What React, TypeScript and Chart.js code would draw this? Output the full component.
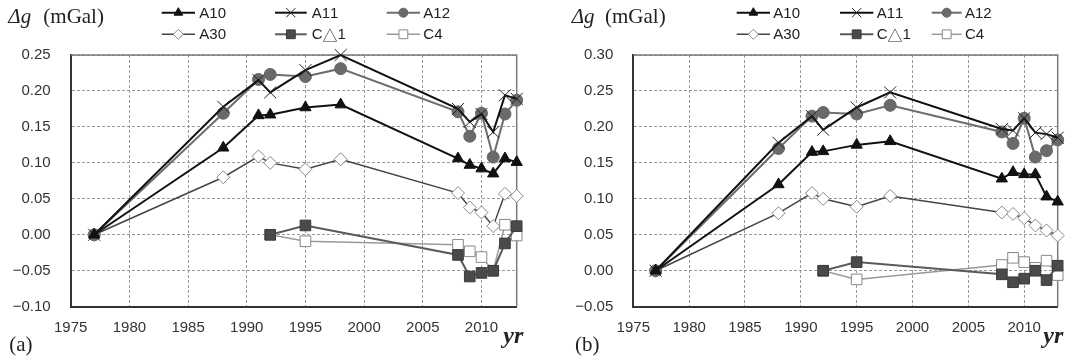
import React, { useEffect, useRef } from 'react';
import { Chart, registerables } from 'chart.js';

Chart.register(...registerables);

// ---- data ----
const yearsA = [1977, 1988, 1991, 1992, 1995, 1998, 2008, 2009, 2010, 2011, 2012, 2013];
const yearsC = [1992, 1995, 2008, 2009, 2010, 2011, 2012, 2013];
const seriesNames = ['A10', 'A11', 'A12', 'A30', 'C△1', 'C4'];
const xTickYears = [1975, 1980, 1985, 1990, 1995, 2000, 2005, 2010];

// panel (a)
const aA10 = [0, 0.121, 0.166, 0.167, 0.177, 0.181, 0.106, 0.097, 0.092, 0.085, 0.106, 0.101];
const aA11 = [0, 0.178, 0.215, 0.198, 0.229, 0.250, 0.175, 0.157, 0.168, 0.143, 0.194, 0.189];
const aA12 = [0, 0.169, 0.216, 0.223, 0.220, 0.231, 0.171, 0.137, 0.169, 0.108, 0.168, 0.187];
const aA30 = [0, 0.080, 0.109, 0.100, 0.091, 0.105, 0.058, 0.038, 0.031, 0.012, 0.057, 0.054];
const aC1 = [0, 0.013, -0.028, -0.058, -0.053, -0.050, -0.012, 0.012];
const aC4 = [0, -0.009, -0.014, -0.023, -0.031, -0.050, 0.014, -0.001];

// panel (b)
const bA10 = [0, 0.120, 0.165, 0.166, 0.175, 0.180, 0.128, 0.137, 0.134, 0.134, 0.103, 0.096];
const bA11 = [0, 0.178, 0.215, 0.196, 0.227, 0.248, 0.197, 0.195, 0.212, 0.192, 0.190, 0.185];
const bA12 = [0, 0.170, 0.215, 0.220, 0.218, 0.230, 0.193, 0.177, 0.212, 0.158, 0.167, 0.182];
const bA30 = [0, 0.080, 0.108, 0.100, 0.089, 0.104, 0.081, 0.079, 0.073, 0.063, 0.056, 0.049];
const bC1 = [0, 0.012, -0.005, -0.016, -0.011, 0.000, -0.013, 0.007];
const bC4 = [0, -0.012, 0.008, 0.018, 0.012, 0.004, 0.014, -0.006];

// ---- styles ----
const STYLES = [
  { line: '#111', lw: 2, marker: 'triangle', r: 6.5, fill: '#111', stroke: '#111', pbw: 1, lr: 5 },
  { line: '#111', lw: 2, marker: 'crossRot', r: 8.5, fill: '#111', stroke: '#222', pbw: 1, lr: 6.5 },
  { line: '#6e6e6e', lw: 2, marker: 'circle', r: 6, fill: '#6a6a6a', stroke: '#666', pbw: 1, lr: 4.5 },
  { line: '#444', lw: 1.5, marker: 'rectRot', r: 6.5, fill: '#fff', stroke: '#888', pbw: 1, lr: 5 },
  { line: '#5a5a5a', lw: 2, marker: 'rect', r: 7.5, fill: '#4a4a4a', stroke: '#3a3a3a', pbw: 1, lr: 5.5 },
  { line: '#9a9a9a', lw: 1.5, marker: 'rect', r: 7.5, fill: '#fff', stroke: '#888', pbw: 1, lr: 5.5 },
];

const W_H = 358;

type Panel = {
  values: number[][];
  yMin: number;
  yMax: number;
  width: number;
  left: number;
  right: number;
  legendCols: number[][];
  titleX: number[];
  tag: string;
  tagX: number;
  yrX: number;
};

const panelA: Panel = {
  values: [aA10, aA11, aA12, aA30, aC1, aC4],
  yMin: -0.1,
  yMax: 0.25,
  width: 540,
  left: 70.7,
  right: 516.7,
  legendCols: [[161.7, 195, 199.3], [275, 306.7, 311.7], [386.7, 420, 423.3]],
  titleX: [8.3, 43.3],
  tag: '(a)',
  tagX: 9.3,
  yrX: 503.3,
};

const panelB: Panel = {
  values: [bA10, bA11, bA12, bA30, bC1, bC4],
  yMin: -0.05,
  yMax: 0.3,
  width: 533,
  left: 93.3,
  right: 517.7,
  legendCols: [[196.7, 230, 233.3], [300, 333.3, 336.7], [391.7, 421.7, 425]],
  titleX: [31.7, 65],
  tag: '(b)',
  tagX: 35,
  yrX: 503.3,
};

function drawMarker(ctx: CanvasRenderingContext2D, s: any, x: number, y: number) {
  const r = s.lr;
  ctx.save();
  ctx.fillStyle = s.fill;
  ctx.strokeStyle = s.stroke;
  ctx.lineWidth = s.pbw;
  ctx.beginPath();
  if (s.marker === 'triangle') {
    ctx.moveTo(x, y - r);
    ctx.lineTo(x + r * 0.866, y + r * 0.5);
    ctx.lineTo(x - r * 0.866, y + r * 0.5);
    ctx.closePath();
    ctx.fill();
    ctx.stroke();
  } else if (s.marker === 'crossRot') {
    const d = r * 0.707;
    ctx.moveTo(x - d, y - d);
    ctx.lineTo(x + d, y + d);
    ctx.moveTo(x + d, y - d);
    ctx.lineTo(x - d, y + d);
    ctx.stroke();
  } else if (s.marker === 'circle') {
    ctx.arc(x, y, r, 0, Math.PI * 2);
    ctx.fill();
    ctx.stroke();
  } else if (s.marker === 'rectRot') {
    ctx.moveTo(x, y - r);
    ctx.lineTo(x + r, y);
    ctx.lineTo(x, y + r);
    ctx.lineTo(x - r, y);
    ctx.closePath();
    ctx.fill();
    ctx.stroke();
  } else {
    const h = r * 0.8;
    ctx.rect(x - h, y - h, 2 * h, 2 * h);
    ctx.fill();
    ctx.stroke();
  }
  ctx.restore();
}

const LATIN = '15px "Liberation Sans", sans-serif';
const CJK = '15px "Noto Sans CJK JP", sans-serif';

function drawLegendLabel(ctx: CanvasRenderingContext2D, name: string, x: number, y: number) {
  let cx = x;
  for (const ch of name) {
    ctx.font = ch === '△' ? CJK : LATIN;
    ctx.fillText(ch, cx, y);
    cx += ctx.measureText(ch).width;
  }
}

function makeDecor(p: Panel) {
  return {
    id: 'decor',
    beforeDatasetsDraw(chart: any) {
      const { ctx, chartArea: a } = chart;
      ctx.save();
      ctx.strokeStyle = '#7a7a7a';
      ctx.lineWidth = 1.5;
      ctx.beginPath();
      ctx.moveTo(a.left, a.top);
      ctx.lineTo(a.right, a.top);
      ctx.lineTo(a.right, a.bottom);
      ctx.stroke();
      ctx.restore();
    },
    afterDraw(chart: any) {
      const ctx: CanvasRenderingContext2D = chart.ctx;
      ctx.save();
      // legend
      const rows = [12.7, 34.3];
      seriesNames.forEach((name, i) => {
        const s = STYLES[i];
        const col = p.legendCols[i % 3];
        const y = rows[Math.floor(i / 3)];
        ctx.strokeStyle = s.line;
        ctx.lineWidth = s.lw;
        ctx.beginPath();
        ctx.moveTo(col[0], y);
        ctx.lineTo(col[1], y);
        ctx.stroke();
        drawMarker(ctx, s, (col[0] + col[1]) / 2, y);
        ctx.fillStyle = '#222';
        ctx.textBaseline = 'middle';
        ctx.textAlign = 'left';
        drawLegendLabel(ctx, name, col[2], y + 1);
      });
      // y title
      ctx.fillStyle = '#222';
      ctx.textBaseline = 'middle';
      ctx.font = 'italic 21px "Liberation Serif", serif';
      ctx.fillText('Δg', p.titleX[0], 17);
      ctx.font = '21px "Liberation Serif", serif';
      ctx.fillText('(mGal)', p.titleX[1], 17);
      // x title
      ctx.font = 'italic bold 24px "Liberation Serif", serif';
      ctx.fillText('yr', p.yrX, 337);
      // panel tag
      ctx.font = '21px "Liberation Serif", serif';
      ctx.fillText(p.tag, p.tagX, 345);
      ctx.restore();
    },
  };
}

function fmtY(v: number) {
  if (Math.abs(v) < 1e-9) return '0.00';
  return v < 0 ? '\u2212' + Math.abs(v).toFixed(2) : v.toFixed(2);
}

function PanelChart({ p, offsetX }: { p: Panel; offsetX: number }) {
  const ref = useRef<HTMLCanvasElement | null>(null);
  useEffect(() => {
    if (!ref.current) return;
    const datasets = p.values.map((vals, i) => {
      const s = STYLES[i];
      const xs = i < 4 ? yearsA : yearsC;
      return {
        label: seriesNames[i],
        data: vals.map((v, k) => ({ x: xs[k], y: v })),
        borderColor: s.line,
        borderWidth: s.lw,
        pointStyle: s.marker,
        pointRadius: s.r,
        pointBackgroundColor: s.fill,
        pointBorderColor: s.stroke,
        pointBorderWidth: s.pbw,
        tension: 0,
        fill: false,
        clip: false,
      };
    });
    const gridCommon = { color: '#9a9a9a', lineWidth: 1, drawTicks: false };
    const chart = new Chart(ref.current, {
      type: 'line',
      data: { datasets } as any,
      options: {
        animation: false,
        responsive: false,
        devicePixelRatio: 1,
        layout: { padding: { left: 0, right: p.width - p.right, top: 55, bottom: 0 } },
        plugins: { legend: { display: false }, tooltip: { enabled: false }, title: { display: false } },
        scales: {
          x: {
            type: 'linear',
            min: 1975,
            max: 2013,
            grid: gridCommon,
            border: { display: true, color: '#333', width: 2, dash: [3, 2] },
            afterFit: (scale: any) => {
              scale.height = W_H - 306.7;
            },
            afterBuildTicks: (scale: any) => {
              scale.ticks = xTickYears.map((v) => ({ value: v }));
            },
            ticks: {
              padding: 12,
              color: '#333',
              font: { family: '"Liberation Sans", sans-serif', size: 15 },
              callback: (v: any) => String(v),
              maxRotation: 0,
            },
          },
          y: {
            type: 'linear',
            min: p.yMin,
            max: p.yMax,
            grid: gridCommon,
            border: { display: true, color: '#333', width: 2, dash: [3, 2] },
            afterFit: (scale: any) => {
              scale.width = p.left;
            },
            ticks: {
              stepSize: 0.05,
              padding: 20,
              color: '#333',
              font: { family: '"Liberation Sans", sans-serif', size: 15 },
              callback: (v: any) => fmtY(Number(v)),
            },
          },
        },
      } as any,
      plugins: [makeDecor(p)],
    });
    return () => chart.destroy();
  }, [p]);
  return (
    <canvas
      ref={ref}
      width={p.width}
      height={W_H}
      style={{ position: 'absolute', left: offsetX, top: 0, width: p.width, height: W_H }}
    />
  );
}

export default function App() {
  return (
    <div
      style={{
        position: 'fixed',
        left: 0,
        top: 0,
        width: 1073,
        height: W_H,
        background: '#fff',
        overflow: 'hidden',
      }}
    >
      <PanelChart p={panelA} offsetX={0} />
      <PanelChart p={panelB} offsetX={540} />
    </div>
  );
}
